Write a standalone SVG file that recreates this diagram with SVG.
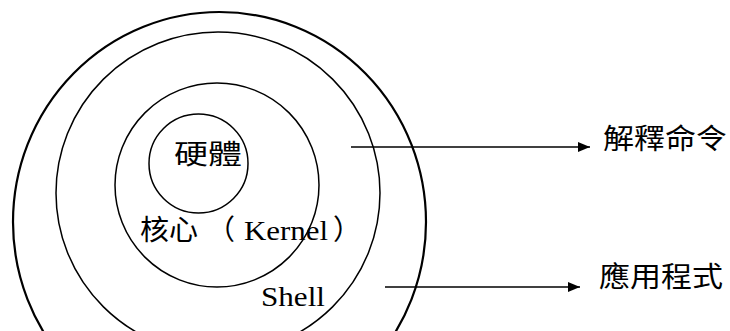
<svg xmlns="http://www.w3.org/2000/svg" width="730" height="331" viewBox="0 0 730 331">
<style>
.ring{fill:none;stroke:#000;stroke-width:1.5}
.outer{fill:none;stroke:#000;stroke-width:2.2}
.cjk{font-family:"Noto Sans CJK TC","Noto Sans CJK SC",sans-serif;fill:#000}
.serif{font-family:"Liberation Serif","Times New Roman",serif;fill:#000}
.conn{stroke:#000;stroke-width:1.5;fill:none}
</style>
<defs>
<marker id="arr" markerWidth="12" markerHeight="10" refX="12" refY="5" orient="auto" markerUnits="userSpaceOnUse">
<path d="M0,0 L12,5 L0,10 Z" fill="#000"/>
</marker>
</defs>
<rect width="730" height="331" fill="#fff"/>
<g id="application">
<ellipse class="outer" cx="219.5" cy="222" rx="206.5" ry="210"/>
</g>
<g id="shell">
<ellipse class="ring" cx="218" cy="193" rx="162" ry="161"/>
<text class="serif" x="261" y="306" font-size="27" textLength="64" lengthAdjust="spacingAndGlyphs">Shell</text>
</g>
<g id="kernel">
<circle class="ring" cx="217" cy="185" r="102"/>
<text class="cjk" x="140" y="240" font-size="28"><tspan textLength="58" lengthAdjust="spacingAndGlyphs">核心</tspan><tspan x="207">（</tspan><tspan class="serif" font-size="27" x="244" textLength="84" lengthAdjust="spacingAndGlyphs">Kernel</tspan><tspan x="333">）</tspan></text>
</g>
<g id="hardware">
<circle class="ring" cx="198.5" cy="163.5" r="49.5"/>
<text class="cjk" x="174" y="164" font-size="27" textLength="68" lengthAdjust="spacingAndGlyphs">硬體</text>
</g>
<g id="interpret">
<text class="cjk" x="603" y="149" font-size="28" textLength="124" lengthAdjust="spacingAndGlyphs">解釋命令</text>
</g>
<g id="apps">
<text class="cjk" x="599" y="287" font-size="28" textLength="124" lengthAdjust="spacingAndGlyphs">應用程式</text>
</g>
<g id="connectors">
<line class="conn" x1="351" y1="147" x2="590" y2="147" marker-end="url(#arr)"/>
<line class="conn" x1="385" y1="287" x2="580" y2="287" marker-end="url(#arr)"/>
</g>
</svg>
